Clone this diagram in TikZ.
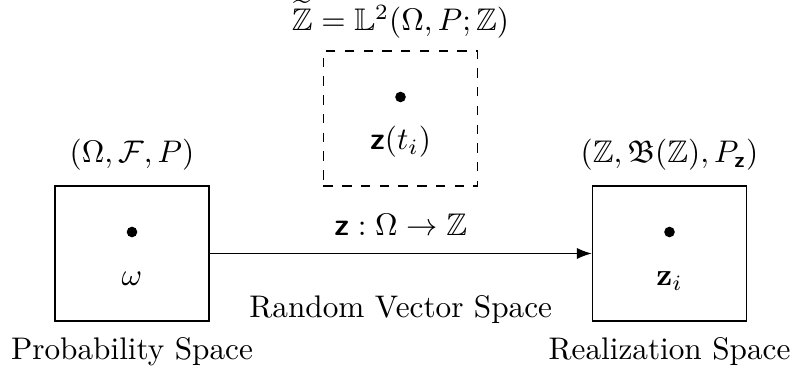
\documentclass[tikz,border=0pt]{standalone}
\usepackage{amsmath, amssymb}
\usetikzlibrary{arrows.meta, positioning}

\begin{document}
\begin{tikzpicture}[>=Latex, x=0.01125cm, y=-0.01125cm]
  \tikzset{space/.style={draw, minimum width=1.734cm, minimum height=1.518cm, inner sep=0pt},
    dot/.style={circle, fill, inner sep=0pt, minimum size=3.4pt}}
  \useasboundingbox (0,0) rectangle (793,372);
  \node[space] (prob) at (132,253.5) {};
  \node[space, dashed] (rv) at (400.5,118.5) {};
  \node[space] (real) at (669.5,253.5) {};
  \node[dot] (w) at (132,232) {};
  \node[dot] (zt) at (400.5,97) {};
  \node[dot] (zi) at (669.5,232) {};
  \node (wl) at (132,279) {$\omega$};
  \node (ztl) at (400.5,142) {$\textsf{\textbf{z}}(t_i)$};
  \node (zil) at (669.5,281) {$\mathbf{z}_i$};
  \node[above=1.2pt of prob] (probt) {$(\Omega,\mathcal{F},P)$};
  \node[above=0.2pt of rv] (rvt) {$\widetilde{\mathbb{Z}}=\mathbb{L}^2(\Omega,P;\mathbb{Z})$};
  \node[above=1.2pt of real] (realt) {$(\mathbb{Z},\mathfrak{B}(\mathbb{Z}),P_{\textsf{\textbf{z}}})$};
  \node[below=1.4pt of prob] (probb) {Probability Space};
  \node[below=1.4pt of real] (realb) {Realization Space};
  \draw[->] (prob) -- node[above=2.3pt] (map) {$\textsf{\textbf{z}}:\Omega\to\mathbb{Z}$}
    node[below=10pt] (rvb) {Random Vector Space} (real);
\end{tikzpicture}
\end{document}
